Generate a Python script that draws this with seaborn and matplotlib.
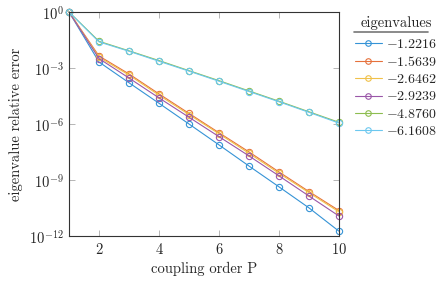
import numpy as np
import pandas as pd
import seaborn as sns
import matplotlib.pyplot as plt
from matplotlib.lines import Line2D

## Data
P = [1, 2, 3, 4, 5, 6, 7, 8, 9, 10]
eigenvalues = ["-1.2216", "-1.5639", "-2.6462", "-2.9239", "-4.8760", "-6.1608"]
err_12216 = [1.0, 2.1e-3, 1.62e-4, 1.29e-5, 1.0e-6, 7.6e-8, 5.6e-9, 4.3e-10, 3.2e-11, 1.8e-12]
err_15639 = [1.0, 4.4e-3, 4.8e-4, 4.1e-5, 3.7e-6, 3.4e-7, 3.2e-8, 2.7e-9, 2.4e-10, 2.3e-11]
err_26462 = [1.0, 3.8e-3, 4.2e-4, 3.5e-5, 3.2e-6, 3.0e-7, 2.7e-8, 2.3e-9, 2.1e-10, 1.95e-11]
err_29239 = [1.0, 3.2e-3, 2.9e-4, 2.5e-5, 2.3e-6, 2.1e-7, 1.95e-8, 1.66e-9, 1.38e-10, 1.17e-11]
err_48760 = [1.0, 2.7e-2, 8.3e-3, 2.5e-3, 7.2e-4, 2.1e-4, 5.9e-5, 1.66e-5, 4.5e-6, 1.23e-6]
err_61608 = [1.0, 2.5e-2, 7.9e-3, 2.3e-3, 6.8e-4, 1.95e-4, 5.5e-5, 1.55e-5, 4.2e-6, 1.12e-6]
colors = ["#3593d6", "#e6713c", "#f0c14a", "#9a57a8", "#8dbd50", "#6cc8ef"]

series = [err_12216, err_15639, err_26462, err_29239, err_48760, err_61608]
df = pd.concat([pd.DataFrame({"P": P, "err": s, "eig": e})
                for s, e in zip(series, eigenvalues)])

sns.set_style("ticks")
plt.rcParams["font.family"] = ["cmr10"]
plt.rcParams["mathtext.fontset"] = "cm"
plt.rcParams["axes.formatter.use_mathtext"] = True

fig = plt.figure(figsize=(4.39, 2.81), dpi=100)
ax = fig.add_axes([69 / 439, 45 / 281, 270 / 439, 224 / 281])

sns.lineplot(data=df, x="P", y="err", hue="eig", palette=colors, marker="o",
             markersize=4.5, mfc="none", mew=0.8, lw=0.8, ax=ax, legend=False)
for ln in ax.lines:
    ln.set_markeredgecolor(ln.get_color())
    ln.set_clip_on(False)

ax.set_yscale("log")
ax.set_xlim(1, 10)
ax.set_ylim(1e-12, 1)
ax.set_xticks([2, 4, 6, 8, 10])
ax.set_xticklabels(["$2$", "$4$", "$6$", "$8$", "$10$"])
ax.set_yticks([1, 1e-3, 1e-6, 1e-9, 1e-12])
ax.set_yticklabels(["$10^{0}$", "$10^{-3}$", "$10^{-6}$", "$10^{-9}$", "$10^{-12}$"])
ax.minorticks_off()
ax.tick_params(direction="in", length=4, width=0.6, color="#aaaaaa",
               top=True, right=True, labelsize=10.5, pad=4)
for sp in ax.spines.values():
    sp.set_linewidth(0.8)
    sp.set_color("#333333")
ax.set_xlabel("coupling order P", fontsize=10.5)
ax.set_ylabel("eigenvalue relative error", fontsize=10.5)

handles = [Line2D([], [], color=c, marker="o", mfc="none", mec=c, ms=4, mew=0.8, lw=0.8)
           for c in colors]
labels = ["$" + e + "$" for e in eigenvalues]
leg = fig.legend(handles, labels, title="eigenvalues", loc="upper left",
                 bbox_to_anchor=(349 / 439, 1 - 10 / 281), frameon=False,
                 fontsize=10, title_fontsize=10.5, handlelength=2.0,
                 handletextpad=0.3, labelspacing=0.3, borderaxespad=0)
leg._legend_box.sep = 6
fig.add_artist(Line2D([354 / 439, 428 / 439], [1 - 32 / 281, 1 - 32 / 281],
                      color="#777777", lw=1.2, transform=fig.transFigure))

fig.savefig("out.png", dpi=100)
